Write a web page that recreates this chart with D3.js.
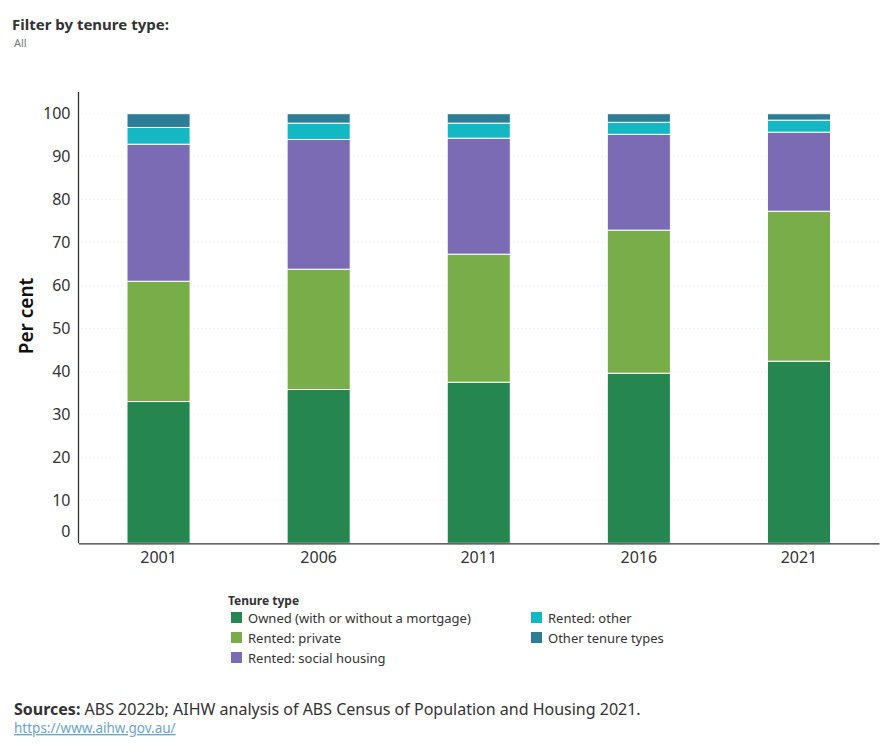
<!DOCTYPE html>
<html>
<head>
<meta charset="utf-8">
<script src="https://cdn.jsdelivr.net/npm/d3@7"></script>
<style>
  body { margin: 0; background: #fff; font-family: "Noto Sans", "Open Sans", sans-serif; }
  svg { display: block; }
</style>
</head>
<body>
<div id="chart"></div>
<script>
// data (per cent)
var years = ["2001", "2006", "2011", "2016", "2021"];
var owned = [33.0, 35.8, 37.5, 39.6, 42.4];
var rentedPrivate = [28.0, 28.0, 29.8, 33.3, 34.9];
var rentedSocial = [31.9, 30.2, 27.0, 22.3, 18.4];
var rentedOther = [3.9, 3.8, 3.5, 2.8, 2.8];
var otherTenure = [3.2, 2.2, 2.2, 2.0, 1.5];
var seriesNames = ["Owned (with or without a mortgage)", "Rented: private", "Rented: social housing", "Rented: other", "Other tenure types"];
var seriesColors = ["#26864f", "#78ad4a", "#7b6ab4", "#14b8c4", "#2e7d97"];
var yTicks = [0, 10, 20, 30, 40, 50, 60, 70, 80, 90, 100];

var W = 890, H = 750;
var svg = d3.select("#chart").append("svg")
    .attr("width", W)
    .attr("height", H);

// header
svg.append("text").attr("x", 12).attr("y", 30)
    .style("font-size", "15px").style("font-weight", "bold").attr("fill", "#333")
    .text("Filter by tenure type:");
svg.append("text").attr("x", 14).attr("y", 47)
    .style("font-size", "11px").attr("fill", "#777")
    .text("All");

var keys = ["owned", "private", "social", "other", "othertype"];
var rows = years.map(function(y, i) {
  return {year: y, owned: owned[i], private: rentedPrivate[i], social: rentedSocial[i], other: rentedOther[i], othertype: otherTenure[i]};
});

var plot = {left: 78.5, right: 879, top: 92, bottom: 543.3};

var x = d3.scaleBand().domain(years)
    .range([plot.left, plot.right])
    .paddingInner(0.606).paddingOuter(0.303);
var y = d3.scaleLinear().domain([0, 100])
    .range([plot.bottom, plot.bottom - 100 * 4.296]);

// gridlines
svg.append("g").selectAll("line")
    .data(yTicks.filter(function(d){ return d > 0; }))
    .join("line")
    .attr("x1", plot.left + 3).attr("x2", plot.right)
    .attr("y1", function(d){ return y(d); }).attr("y2", function(d){ return y(d); })
    .attr("stroke", "#e6e6e6").attr("stroke-dasharray", "1,3");

var stack = d3.stack().keys(keys)(rows);

svg.append("g").selectAll("g")
    .data(stack)
    .join("g")
    .attr("fill", function(d, i){ return seriesColors[i]; })
    .selectAll("rect")
    .data(function(d){ return d; })
    .join("rect")
    .attr("x", function(d){ return x(d.data.year); })
    .attr("width", x.bandwidth())
    .attr("y", function(d){ return y(d[1]); })
    .attr("height", function(d){ return y(d[0]) - y(d[1]); })
    .attr("stroke", "#fff").attr("stroke-width", 1);

// y axis
var yAxis = svg.append("g")
    .attr("transform", "translate(" + plot.left + ",0)")
    .call(d3.axisLeft(y).tickValues(yTicks).tickSize(0).tickPadding(8));
yAxis.select(".domain").remove();
yAxis.selectAll("text")
    .style("font-size", "16px").style("font-family", "'Noto Sans', sans-serif")
    .attr("fill", "#333")
    .attr("dy", function(d){ return d === 0 ? "-0.4em" : "0.32em"; });
svg.append("line")
    .attr("x1", plot.left).attr("x2", plot.left)
    .attr("y1", plot.top).attr("y2", plot.bottom)
    .attr("stroke", "#333").attr("stroke-width", 1.3);

// x axis
var xAxis = svg.append("g")
    .attr("transform", "translate(0," + plot.bottom + ")")
    .call(d3.axisBottom(x).tickSize(0).tickPadding(8));
xAxis.select(".domain").attr("stroke", "#333").attr("stroke-width", 1.3);
xAxis.selectAll("text")
    .style("font-size", "16px").style("font-family", "'Noto Sans', sans-serif")
    .attr("fill", "#333");

svg.append("text")
    .attr("transform", "translate(33,316) rotate(-90)")
    .attr("text-anchor", "middle")
    .style("font-size", "19px").style("font-weight", "600")
    .attr("fill", "#111")
    .text("Per cent");

// legend
var legend = svg.append("g");
legend.append("text").attr("x", 228).attr("y", 605)
    .style("font-size", "12px").style("font-weight", "bold").attr("fill", "#333")
    .text("Tenure type");
var legPos = [[231, 618], [231, 638], [231, 658], [531, 618], [531, 638]];
var item = legend.selectAll("g.item")
    .data(seriesNames)
    .join("g")
    .attr("class", "item")
    .attr("transform", function(d, i){ return "translate(" + legPos[i][0] + "," + legPos[i][1] + ")"; });
item.append("rect").attr("x", 0).attr("y", -6).attr("width", 11).attr("height", 11)
    .attr("fill", function(d, i){ return seriesColors[i]; });
item.append("text").attr("x", 17).attr("y", 5)
    .style("font-size", "13px").attr("fill", "#333")
    .text(function(d){ return d; });

// footer
var src = svg.append("text").attr("x", 14).attr("y", 715)
    .style("font-size", "16px").attr("fill", "#333");
src.append("tspan").style("font-weight", "bold").text("Sources:");
src.append("tspan").text(" ABS 2022b; AIHW analysis of ABS Census of Population and Housing 2021.");
svg.append("text").attr("x", 14).attr("y", 733)
    .style("font-size", "13.5px").style("text-decoration", "underline")
    .attr("fill", "#6aa6cf")
    .text("https://www.aihw.gov.au/");
</script>
</body>
</html>
